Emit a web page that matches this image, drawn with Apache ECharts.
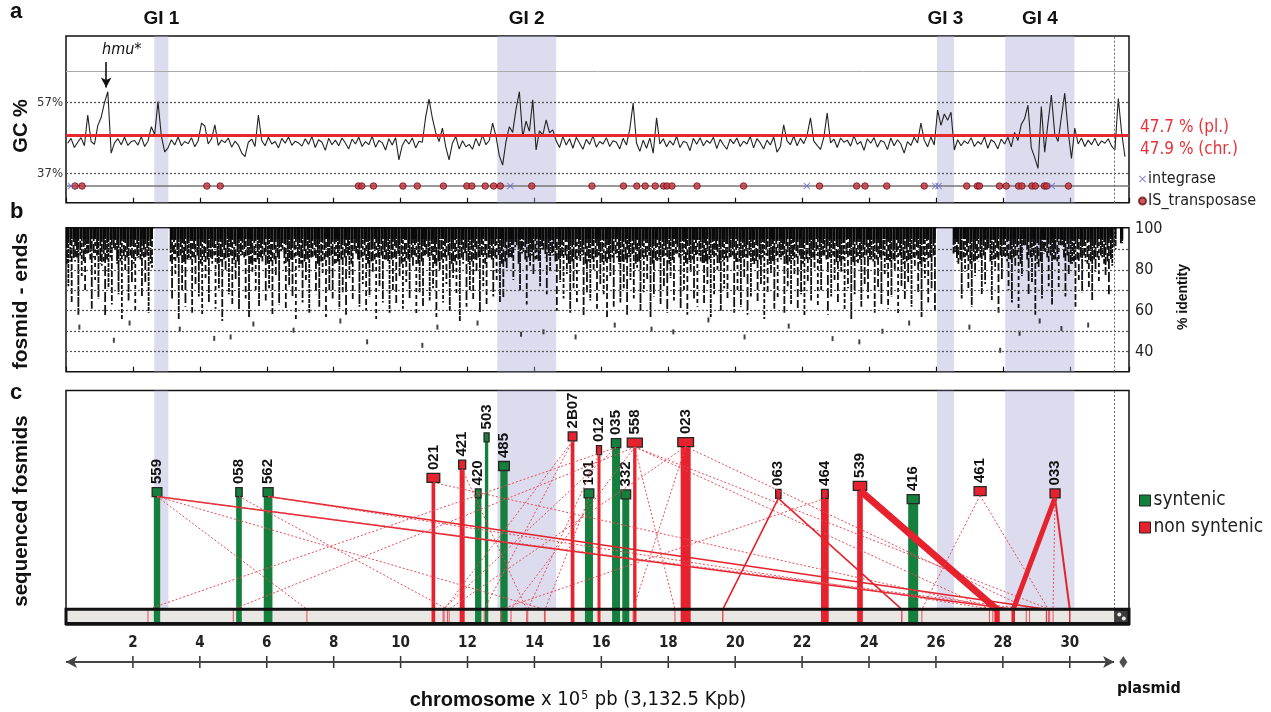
<!DOCTYPE html>
<html><head><meta charset="utf-8">
<script src="https://cdn.jsdelivr.net/npm/echarts@6/dist/echarts.min.js"></script>
<style>html,body{margin:0;padding:0;background:#fff}#c{width:1271px;height:712px}</style>
</head><body><div id="c"></div>
<script>
// ---------------- data ----------------
const xTickLabels = [2,4,6,8,10,12,14,16,18,20,22,24,26,28,30];
const chromLen = 31.325;            // x10^5 pb (3,132.5 Kpb)
const xMax = 31.77;                 // end of plasmid
const giNames = ['GI 1','GI 2','GI 3','GI 4'];
const giStart = [2.64, 12.89, 26.03, 28.07];
const giEnd   = [3.06, 14.65, 26.54, 30.14];

// GC % trace, one value every 0.1 x10^5 pb starting at 0.05
const gcStart = 0.05, gcStep = 0.1;
const gcValues = [
45.5,46.9,44.3,45.8,47.1,44.8,53.5,46.0,45.2,50.5,
52.8,57.0,60.1,42.7,45.6,46.8,45.1,47.2,44.9,46.0,
46.3,45.0,47.4,44.6,46.1,50.2,48.0,57.3,47.5,43.1,
44.2,46.5,45.0,47.3,44.8,46.0,45.4,47.1,44.5,46.2,
51.2,50.4,45.3,46.8,50.7,44.9,46.4,45.7,47.0,44.4,
46.1,45.0,42.8,41.7,45.8,46.7,44.6,53.5,46.3,44.8,
47.2,45.3,46.0,44.2,46.9,45.5,47.3,44.9,46.1,45.6,
44.7,46.8,45.2,47.4,44.3,46.5,45.8,43.5,46.9,45.1,
46.4,44.8,47.0,45.6,43.9,46.7,45.3,47.2,44.6,46.0,
45.1,47.5,44.4,46.3,45.7,43.6,46.8,45.0,47.1,40.8,
44.9,46.6,45.3,47.0,44.2,46.1,45.8,53.0,58.0,52.6,
48.5,46.0,49.8,44.5,40.8,45.6,47.4,43.9,46.2,44.5,
45.2,43.8,46.9,44.7,47.8,45.1,46.3,51.2,47.5,42.0,
39.3,46.0,50.2,48.6,55.2,60.1,47.3,51.8,48.9,57.8,
43.6,49.0,47.8,52.1,48.5,49.3,46.2,44.3,47.4,45.0,
46.8,44.1,47.2,45.5,43.8,46.6,45.2,47.6,44.4,46.0,
45.3,47.1,44.6,46.2,45.8,43.9,46.9,45.0,49.5,56.9,
45.6,43.2,46.4,44.1,47.0,42.7,52.7,45.3,46.8,44.5,
46.2,45.0,47.5,44.3,46.0,45.7,43.4,46.9,45.2,47.1,
44.8,46.3,45.5,47.2,44.0,46.6,45.1,43.8,46.7,45.4,
47.0,44.6,46.1,45.3,47.4,44.2,46.8,45.6,43.9,46.4,
45.0,47.3,43.0,44.5,50.7,46.2,45.1,47.5,44.8,46.9,
45.4,47.8,52.7,46.1,44.9,43.8,47.2,54.1,45.6,46.7,
44.3,47.0,45.8,46.4,44.7,47.6,45.2,46.0,43.5,46.8,
45.5,47.1,44.4,46.3,45.9,43.7,47.0,44.8,46.5,45.3,
42.7,46.0,44.9,47.2,45.6,51.2,46.4,44.5,47.3,45.0,
54.9,50.6,53.8,52.0,54.3,43.6,46.5,44.8,46.2,45.4,
47.1,44.6,46.0,45.2,47.3,44.1,46.5,45.8,43.9,46.7,
45.3,47.2,44.5,48.6,46.3,50.8,52.5,56.3,44.2,41.5,
38.4,55.9,43.0,51.4,59.2,48.2,46.0,53.0,59.7,49.0,
41.2,49.8,45.3,47.0,44.6,46.4,45.1,46.9,44.8,46.2,
45.5,46.8,44.7,43.6,58.2,48.5,41.7
];
const gcRefValues = [57, 37];
const gcRefLabels = ['57%', '37%'];
const gcTopLine = 66;
const gcMeanPl = 47.7, gcMeanChr = 47.9;
const geneTrack = 33.4;
const isTransposase = [0.27,0.48,4.21,4.61,8.74,8.84,9.19,10.07,10.5,11.28,11.98,12.13,12.53,12.78,12.98,13.92,15.72,16.66,17.06,17.31,17.61,17.86,17.96,18.11,18.86,20.25,22.52,23.63,23.88,24.53,25.65,26.92,27.24,27.30,27.90,28.10,28.47,28.57,28.87,28.97,29.24,29.31,29.96];
const integrase = [0.15,13.28,22.14,25.98,26.08,29.46];

// fosmid-end hits: lowest % identity reached in each 0.1 bin (null = no hit)
const fosBinStart = 0.05, fosBinStep = 0.1;
const fosDepth = [
72,64,84,58,77,69,88,61,75,66,
82,57,71,63,90,68,55,79,65,73,
60,86,67,74,59,81,null,null,null,null,
null,66,78,56,70,62,85,59,73,67,
58,76,64,83,61,71,55,80,68,63,
74,60,87,66,57,79,69,62,84,65,
71,58,77,63,89,60,72,67,56,81,
64,75,59,86,68,62,78,57,70,66,
83,61,69,58,76,65,88,62,73,60,
67,79,56,72,64,85,59,70,63,77,
61,74,66,82,58,69,62,87,65,71,
57,80,64,73,60,76,68,55,83,62,
70,65,78,59,72,63,86,67,74,64,
66,80,86,75,91,70,88,63,82,77,
85,72,90,68,79,87,60,74,66,78,
59,71,63,84,57,69,65,80,61,73,
68,56,77,62,86,64,71,58,75,66,
81,60,69,74,57,67,83,63,72,59,
76,65,88,61,70,58,79,66,62,84,
63,73,57,68,80,60,71,65,86,59,
70,62,76,58,67,82,64,73,56,69,
78,61,66,85,59,72,63,77,60,68,
57,74,65,81,62,70,87,58,67,75,
64,79,60,71,56,68,83,62,73,66,
85,59,70,63,77,61,67,80,58,72,
65,74,62,82,69,57,76,64,71,60,
null,null,null,null,null,88,83,66,79,71,
62,77,84,68,73,90,65,80,59,75,
86,70,64,82,61,77,92,68,74,58,
80,66,88,72,63,85,70,92,67,78,
83,62,75,69,84,71,65,79,73,86,
77,68,82,90,null,93,null
];
const fosOutX = [1.43,4.43,4.92,9.0,10.65,14.27,15.23,18.15,20.28,22.91,23.71,27.92,29.75,30.55,0.4,1.9,3.4,5.6,6.8,8.2,11.1,12.3,13.6,16.4,17.5,19.2,21.6,24.4,25.2,27.0,28.5,29.1];
const fosOutY = [45.6,46.5,47.2,44.8,43.1,49.7,47.2,49.7,47.2,46.4,44.8,40.7,51.3,53.0,52.0,54.0,51.0,53.5,50.5,55.0,52.0,54.0,48.5,53.0,51.0,55.5,52.5,50.0,54.0,52.0,49.0,55.0];
const identityTicks = [40, 60, 80, 100];
const identityGrid = [40, 50, 60, 70, 80, 90];

// sequenced fosmids
const fosmidNames = ['559','058','562','021','421','420','503','485','2B07','101','012','035','332','558','023','063','464','539','416','461','033'];
const fosmidPos   = [2.72,5.17,6.04,10.98,11.84,12.32,12.57,13.09,15.14,15.63,15.93,16.44,16.73,17.0,18.52,21.29,22.68,23.73,25.32,27.32,29.56];
const fosmidLevel = [56.7,56.7,56.7,62.7,68.4,56.1,80.0,67.8,80.4,56.1,74.6,77.6,55.7,77.8,78.0,55.9,55.9,59.3,53.7,57.1,56.1];
const fosmidSpan  = [0.29,0.19,0.30,0.38,0.21,0.17,0.15,0.32,0.26,0.29,0.15,0.28,0.29,0.45,0.47,0.16,0.20,0.40,0.36,0.36,0.30];
const fosmidMatch = [0.19,0.17,0.26,0.11,0.15,0.19,0.10,0.22,0.11,0.24,0.09,0.24,0.21,0.10,0.30,0,0.23,0.17,0.30,0,0];
const fosmidSyntenic = [1,1,1,0,0,1,1,1,0,1,0,1,1,0,0,0,0,0,1,0,0];

const linkFrom   = ['559','559','559','559','562','562','058','035','558','2B07','2B07','012','558','558','558','558','023','023','023','063','063','464','539','461','461','033','033','033','021','421','035','101'];
const linkTo     = [7.2,28.3,28.7,14.3,29.3,27.7,11.4,2.45,5.0,12.5,11.3,13.8,13.3,18.2,27.6,29.4,16.95,28.8,11.45,19.63,24.98,13.0,27.82,25.58,29.36,28.31,30.0,29.5,27.9,13.77,11.27,14.32];
const linkSolid  = [0,1,0,0,1,0,0,0,0,0,0,0,0,0,0,0,0,0,0,1,1,0,1,0,0,1,1,0,0,0,0,0];
const linkWeight = [1,1.5,1,1,1.5,1,1,1,1,1,1,1,1,1,1,1,1,1,1,1.6,1.6,1,7,1,1,5,2,1,1,1,1,1];

// ---------------- styling ----------------
const NARROW = "'Liberation Sans Narrow','DejaVu Sans Condensed','Roboto Condensed',sans-serif";
const SANS = "'Liberation Sans',Arial,Helvetica,sans-serif";
const GREEN = '#15803e', RED = '#e5222d', DOT_RED = '#ea4b57';
const GI_COLOR = 'rgba(172,172,214,0.42)';
const X_PATH = 'path://M1,0L5,4L9,0L10,1L6,5L10,9L9,10L5,6L1,10L0,9L4,5L0,1Z';
const barTop = 6.7, barBottom = 0.6;

const giArea = (withLabel) => ({
  silent: true,
  itemStyle: { color: GI_COLOR },
  label: withLabel ? { show: true, position: 'top', distance: 8, formatter: '{b}', fontSize: 19, fontWeight: 'bold', fontFamily: SANS, color: '#111' } : { show: false },
  data: giStart.map((s, i) => [{ xAxis: s, name: giNames[i] }, { xAxis: giEnd[i] }])
});
const chromDivider = { xAxis: chromLen, label: { show: false }, lineStyle: { type: [2, 2], color: '#666', width: 1 } };

const xAx = (gi, ticks) => ({
  type: 'value', gridIndex: gi, min: 0, max: xMax, interval: 2,
  axisLine: { show: false }, axisLabel: { show: false }, splitLine: { show: false },
  axisTick: { show: ticks, inside: true, length: 5, lineStyle: { color: '#111', width: 1.2 } }
});
const yAx = (gi, min, max) => ({ type: 'value', gridIndex: gi, min, max, show: false, splitLine: { show: false } });

const gcData = gcValues.map((v, i) => [+(gcStart + i * gcStep).toFixed(3), v]);
const depthData = [];
fosDepth.forEach((d, i) => { if (d !== null) depthData.push([+(fosBinStart + i * fosBinStep).toFixed(3), d, i]); });
const outData = fosOutX.map((x, i) => [x, fosOutY[i]]);
const fosmidData = (syn) => fosmidNames.map((n, i) => [fosmidPos[i], fosmidLevel[i], fosmidSpan[i], fosmidMatch[i], i]).filter(d => fosmidSyntenic[d[4]] === syn);
const linkData = linkFrom.map((f, i) => { const k = fosmidNames.indexOf(f); return [fosmidPos[k], fosmidLevel[k], linkTo[i], linkWeight[i], linkSolid[i]]; });

function renderDepth(params, api) {
  const x = api.value(0), d = api.value(1), i = api.value(2);
  const w = api.size([fosBinStep, 0])[0];
  const top = api.coord([x, 100.55]);
  const core = api.coord([x, Math.max(d, 95)]);
  const mid = api.coord([x, Math.max(d, 83 + (i % 5))]);
  const bot = api.coord([x, d]);
  const dashA = 4 + (i % 4) * 2, gapA = 1 + (i % 3);
  return { type: 'group', children: [
    { type: 'rect', shape: { x: top[0] - w * 0.5, y: top[1], width: w, height: core[1] - top[1] }, style: { fill: '#0a0a0a' } },
    { type: 'line', shape: { x1: top[0] - w * 0.22, y1: core[1], x2: top[0] - w * 0.22, y2: mid[1] },
      style: { stroke: '#0d0d0d', lineWidth: 1.9, lineDash: [dashA + 5, gapA], lineDashOffset: (i * 5) % 11 } },
    { type: 'line', shape: { x1: top[0] + w * 0.2, y1: core[1], x2: top[0] + w * 0.2, y2: bot[1] },
      style: { stroke: '#111', lineWidth: 1.8, lineDash: [dashA, gapA], lineDashOffset: (i * 7) % 13 } }
  ] };
}
function renderFosmid(params, api) {
  const x = api.value(0), lv = api.value(1), sp = api.value(2), bw = api.value(3), idx = api.value(4);
  const col = fosmidSyntenic[idx] ? GREEN : RED;
  const c = api.coord([x, lv]);
  const b = api.coord([x, barBottom]);
  const wBox = api.size([sp, 0])[0];
  const wBar = api.size([bw, 0])[0];
  const ch = [];
  if (bw > 0) ch.push({ type: 'rect', shape: { x: c[0] - wBar / 2, y: c[1], width: wBar, height: b[1] - c[1] }, style: { fill: col } });
  ch.push({ type: 'rect', z2: 5, shape: { x: c[0] - wBox / 2, y: c[1] - 4.5, width: wBox, height: 9 }, style: { fill: col, stroke: '#262626', lineWidth: 1.3 } });
  ch.push({ type: 'text', x: c[0], y: c[1] - 8, rotation: Math.PI / 2,
    style: { text: fosmidNames[idx], fill: '#111', fontSize: 15, fontWeight: 'bold', fontFamily: SANS, align: 'left', verticalAlign: 'middle', textAlign: 'left', textVerticalAlign: 'middle' } });
  return { type: 'group', children: ch };
}
function renderLink(params, api) {
  const fx = api.value(0), fl = api.value(1), tx = api.value(2), w = api.value(3), solid = api.value(4);
  const p1 = api.coord([fx, fl]); p1[1] += 4.5;
  const p2 = api.coord([tx, barTop]);
  const p3 = api.coord([tx, barBottom]);
  const col = solid ? RED : DOT_RED;
  return { type: 'group', children: [
    { type: 'line', shape: { x1: p1[0], y1: p1[1], x2: p2[0], y2: p2[1] }, style: { stroke: col, lineWidth: w, lineDash: solid ? null : [2, 2] } },
    { type: 'line', shape: { x1: p2[0], y1: p2[1], x2: p3[0], y2: p3[1] }, style: { stroke: col, lineWidth: Math.max(1, w * 0.7) } }
  ] };
}
function renderBarFill(params, api) {
  const a = api.coord([0, barTop]), b = api.coord([xMax, barBottom]);
  return { type: 'rect', shape: { x: a[0], y: a[1], width: b[0] - a[0], height: b[1] - a[1] }, style: { fill: '#e9e7e4' } };
}
function renderBarFrame(params, api) {
  const a = api.coord([0, barTop]), b = api.coord([xMax, barBottom]);
  const p = api.coord([chromLen, barTop]);
  return { type: 'group', children: [
    { type: 'rect', shape: { x: p[0], y: a[1], width: b[0] - p[0], height: b[1] - a[1] }, style: { fill: '#3c3c3c' } },
    { type: 'circle', shape: { cx: p[0] + (b[0] - p[0]) * 0.35, cy: (a[1] + b[1]) / 2 - 2, r: 2 }, style: { fill: '#eee' } },
    { type: 'circle', shape: { cx: p[0] + (b[0] - p[0]) * 0.65, cy: (a[1] + b[1]) / 2 + 2, r: 2 }, style: { fill: '#eee' } },
    { type: 'rect', shape: { x: a[0], y: a[1], width: b[0] - a[0], height: b[1] - a[1] }, style: { fill: null, stroke: '#111', lineWidth: 3 } }
  ] };
}
function renderTick(params, api) {
  const a = api.coord([api.value(0), 0]), b = api.coord([api.value(0), 1]);
  return { type: 'line', shape: { x1: a[0], y1: a[1], x2: b[0], y2: b[1] }, style: { stroke: '#333', lineWidth: 1.5 } };
}

const txt = (x, y, text, o = {}) => ({
  type: 'text', x, y, rotation: o.rot || 0, silent: true,
  style: Object.assign({ text, fill: o.fill || '#111', fontSize: o.size || 16, fontWeight: o.weight || 'normal', fontStyle: o.fstyle || 'normal',
    fontFamily: o.family || SANS, align: o.align || 'left', verticalAlign: 'middle', textAlign: o.align || 'left', textVerticalAlign: 'middle' }, o.extra || {})
});

const option = {
  animation: false,
  backgroundColor: '#fff',
  grid: [
    { left: 66, top: 36, width: 1063, height: 166.7, show: true, borderColor: '#111', borderWidth: 1.5, backgroundColor: 'transparent' },
    { left: 66, top: 227.7, width: 1063, height: 144, show: true, borderColor: '#111', borderWidth: 1.5, backgroundColor: 'transparent' },
    { left: 66, top: 390.5, width: 1063, height: 234.5, show: true, borderColor: '#111', borderWidth: 1.5, backgroundColor: 'transparent' },
    { left: 66, top: 656, width: 1063, height: 12, show: false }
  ],
  xAxis: [
    xAx(0, true), xAx(1, true), xAx(2, false),
    { type: 'value', gridIndex: 3, position: 'top', min: 0, max: xMax, interval: 2,
      axisLine: { show: false }, axisTick: { show: false }, splitLine: { show: false },
      axisLabel: { show: true, margin: 5, fontSize: 15, fontWeight: 'bold', fontFamily: NARROW, color: '#222',
        formatter: v => xTickLabels.indexOf(Math.round(v * 1000) / 1000) >= 0 ? String(v) : '' } }
  ],
  yAxis: [ yAx(0, 28.67, 75.9), yAx(1, 30.23, 100.55), yAx(2, 0, 100), yAx(3, 0, 1) ],
  legend: [
    { orient: 'vertical', left: 1133, top: 166, itemWidth: 7, itemHeight: 7, itemGap: 6, selectedMode: false,
      textStyle: { fontSize: 16, fontFamily: NARROW, color: '#222', padding: [0, 0, 0, -3] },
      data: [ { name: 'integrase', icon: X_PATH, itemStyle: { color: '#6b6bd0' } },
              { name: 'IS_transposase', icon: 'circle', itemStyle: { color: '#c0303a' } } ] },
    { orient: 'vertical', left: 1134, top: 486, itemWidth: 11, itemHeight: 11, itemGap: 8, selectedMode: false,
      textStyle: { fontSize: 19, fontFamily: NARROW, color: '#222', padding: [0, 0, 0, -2] },
      data: [ { name: 'syntenic', icon: 'rect', itemStyle: { color: GREEN, borderColor: '#222', borderWidth: 1 } },
              { name: 'non syntenic', icon: 'rect', itemStyle: { color: RED, borderColor: '#222', borderWidth: 1 } } ] }
  ],
  series: [
    // ---- panel a ----
    { type: 'line', xAxisIndex: 0, yAxisIndex: 0, data: [], z: 1, silent: true,
      markArea: giArea(true),
      markLine: { silent: true, symbol: 'none',
        label: { show: true, position: 'start', distance: 3, fontSize: 13, fontFamily: NARROW, color: '#333' },
        data: [
          { yAxis: gcTopLine, label: { show: false }, lineStyle: { type: 'solid', color: '#aaa', width: 1 } },
          ...gcRefValues.map((v, i) => ({ yAxis: v, label: { show: true, formatter: gcRefLabels[i] }, lineStyle: { type: [2, 2], color: '#555', width: 1.3 } })),
          { yAxis: geneTrack, label: { show: false }, lineStyle: { type: 'solid', color: '#777', width: 1.5 } },
          chromDivider,
          [ { coord: [1.2, 68.5], symbol: 'none' }, { coord: [1.2, 61.3], symbol: 'arrow', symbolSize: [8, 10] } ]
        ].map(d => { if (Array.isArray(d)) { d[0].lineStyle = { type: 'solid', color: '#111', width: 1.6 }; d[0].label = { show: false }; } return d; }) } },
    { type: 'line', name: 'GC', xAxisIndex: 0, yAxisIndex: 0, data: gcData, showSymbol: false, z: 3, silent: true,
      lineStyle: { color: '#222', width: 1.1 },
      markLine: { silent: true, symbol: 'none', label: { show: false },
        data: [ { yAxis: gcMeanPl, lineStyle: { color: '#e8262d', width: 2, type: 'solid' } },
                { yAxis: gcMeanChr, lineStyle: { color: '#e8262d', width: 2, type: 'solid' } } ] } },
    { type: 'scatter', name: 'IS_transposase', xAxisIndex: 0, yAxisIndex: 0, z: 5, silent: true,
      data: isTransposase.map(x => [x, geneTrack]), symbol: 'circle', symbolSize: 6.5,
      itemStyle: { color: '#c4323c', borderColor: '#6e1218', borderWidth: 1 } },
    { type: 'scatter', name: 'integrase', xAxisIndex: 0, yAxisIndex: 0, z: 6, silent: true,
      data: integrase.map(x => [x, geneTrack]), symbol: X_PATH, symbolSize: 7, itemStyle: { color: '#6b6bd0' } },

    // ---- panel b ----
    { type: 'line', xAxisIndex: 1, yAxisIndex: 1, data: [], z: 1, silent: true,
      markArea: giArea(false),
      markLine: { silent: true, symbol: 'none',
        label: { show: true, position: 'end', distance: 6, fontSize: 16, fontFamily: NARROW, color: '#222' },
        data: [
          ...identityGrid.map(v => ({ yAxis: v, label: { show: identityTicks.indexOf(v) >= 0, formatter: String(v) }, lineStyle: { type: [2, 2], color: '#555', width: 1.2 } })),
          { yAxis: 100, label: { show: true, formatter: '100' }, lineStyle: { color: 'rgba(0,0,0,0)', width: 1 } },
          chromDivider
        ] } },
    { type: 'custom', name: 'fosmid-ends', xAxisIndex: 1, yAxisIndex: 1, z: 3, silent: true, renderItem: renderDepth, data: depthData },
    { type: 'scatter', name: 'fosmid-ends low', xAxisIndex: 1, yAxisIndex: 1, z: 3, silent: true, data: outData,
      symbol: 'rect', symbolSize: [2, 5], itemStyle: { color: '#111' } },

    // ---- panel c ----
    { type: 'line', xAxisIndex: 2, yAxisIndex: 2, data: [], z: 1, silent: true,
      markArea: giArea(false),
      markLine: { silent: true, symbol: 'none', label: { show: false }, data: [chromDivider] } },
    { type: 'custom', name: 'chromosome', xAxisIndex: 2, yAxisIndex: 2, z: 2, silent: true, renderItem: renderBarFill, data: [[0, 0]] },
    { type: 'custom', name: 'syntenic', xAxisIndex: 2, yAxisIndex: 2, z: 3, silent: true, renderItem: renderFosmid, data: fosmidData(1), itemStyle: { color: GREEN } },
    { type: 'custom', name: 'non syntenic', xAxisIndex: 2, yAxisIndex: 2, z: 3, silent: true, renderItem: renderFosmid, data: fosmidData(0), itemStyle: { color: RED } },
    { type: 'custom', name: 'links', xAxisIndex: 2, yAxisIndex: 2, z: 4, silent: true, renderItem: renderLink, data: linkData },
    { type: 'custom', name: 'chromosome frame', xAxisIndex: 2, yAxisIndex: 2, z: 6, silent: true, renderItem: renderBarFrame, data: [[0, 0]] },

    // ---- bottom axis ----
    { type: 'line', xAxisIndex: 3, yAxisIndex: 3, data: [], z: 2, silent: true,
      markLine: { silent: true, symbol: ['arrow', 'arrow'], symbolSize: [9, 11], label: { show: false },
        lineStyle: { color: '#444', width: 2, type: 'solid' },
        data: [ [ { coord: [0, 0.5] }, { coord: [chromLen, 0.5] } ] ] } },
    { type: 'custom', name: 'ticks', xAxisIndex: 3, yAxisIndex: 3, z: 3, silent: true, renderItem: renderTick, data: xTickLabels.map(v => [v, 0]) },
    { type: 'scatter', name: 'plasmid', xAxisIndex: 3, yAxisIndex: 3, z: 3, silent: true, data: [[31.6, 0.5]],
      symbol: 'diamond', symbolSize: [8, 12], itemStyle: { color: '#222' } }
  ],
  graphic: [
    txt(10, 12, 'a', { size: 22, weight: 'bold' }),
    txt(10, 212, 'b', { size: 22, weight: 'bold' }),
    txt(10, 393, 'c', { size: 22, weight: 'bold' }),
    txt(21, 126, 'GC %', { rot: Math.PI / 2, align: 'center', size: 20, weight: 'bold' }),
    txt(21, 301, 'fosmid - ends', { rot: Math.PI / 2, align: 'center', size: 21, weight: 'bold' }),
    txt(21, 511, 'sequenced fosmids', { rot: Math.PI / 2, align: 'center', size: 20.5, weight: 'bold' }),
    txt(1183, 297, '% identity', { rot: Math.PI / 2, align: 'center', size: 14, weight: 'bold' }),
    txt(1140, 128, gcMeanPl + ' % (pl.)', { fill: '#e8323a', size: 17, family: NARROW }),
    txt(1140, 150, gcMeanChr + ' % (chr.)', { fill: '#e8323a', size: 17, family: NARROW }),
    txt(102, 50, 'hmu*', { size: 16, family: NARROW, fstyle: 'italic' }),
    txt(578, 700, '{b|chromosome} x 10{s|5} pb (3,132.5 Kpb)', { align: 'center', size: 20, family: NARROW,
      extra: { rich: { b: { fontWeight: 'bold', fontFamily: SANS, fontSize: 20, fill: '#111', color: '#111' },
                       s: { fontSize: 12, fontFamily: NARROW, verticalAlign: 'top', padding: [0, 1, 9, 1], fill: '#111', color: '#111' } } } }),
    txt(1117, 689, 'plasmid', { size: 16, weight: 'bold', family: NARROW })
  ]
};
const chart = echarts.init(document.getElementById('c'), null, { renderer: 'canvas', width: 1271, height: 712 });
chart.setOption(option);
</script>
</body></html>
